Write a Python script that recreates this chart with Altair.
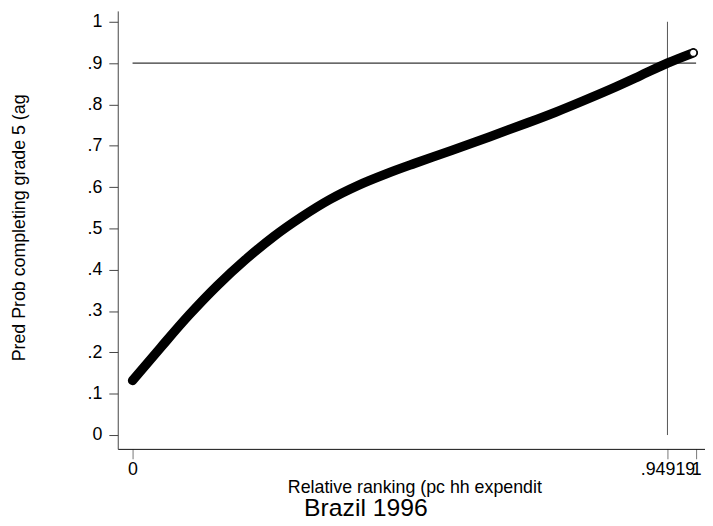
import altair as alt
import pandas as pd

# ---- data ----
rank = [0, 0.05, 0.1, 0.15, 0.2, 0.25, 0.3, 0.35, 0.4, 0.45, 0.5, 0.55,
        0.6, 0.65, 0.7, 0.75, 0.8, 0.85, 0.9, 0.949, 0.995]
prob = [0.132, 0.212, 0.29, 0.361, 0.424, 0.48, 0.528, 0.570, 0.604, 0.632,
        0.657, 0.681, 0.705, 0.730, 0.755, 0.781, 0.809, 0.838, 0.869, 0.9, 0.925]
x_ticks = [0, 0.94919, 1]
y_ticks = [0, 0.1, 0.2, 0.3, 0.4, 0.5, 0.6, 0.7, 0.8, 0.9, 1]
hline_y = [0.9]
hline_x = [0]
hline_x2 = [1]
vline_x = [0.94919]
vline_y = [0]
vline_y2 = [1]
x_title = "Relative ranking (pc hh expendit"
y_title = "Pred Prob completing grade 5 (ag"
caption = ["Brazil 1996"]

FONT = "Liberation Sans"

df = pd.DataFrame({"rank": rank, "prob": prob})
last = df.tail(1)
df_h = pd.DataFrame({"x": hline_x, "x2": hline_x2, "y": hline_y})
df_v = pd.DataFrame({"x": vline_x, "y": vline_y, "y2": vline_y2})
df_t = pd.DataFrame({"t": caption})

xs = alt.Scale(domain=[-0.0263, 1.0158], nice=False, zero=False)
ys = alt.Scale(domain=[-0.0335, 1.0263], nice=False, zero=False)

x_axis = alt.Axis(
    values=x_ticks,
    labelExpr="datum.value == 0 ? '0' : datum.value == 1 ? '1' : replace(format(datum.value, '.5f'), '0.', '.')",
    title=x_title, grid=False, tickSize=10, labelPadding=16,
    labelBaseline="alphabetic", labelFont=FONT, labelFontSize=18,
    labelColor="black", labelOverlap=False, labelFlush=False,
    titleFont=FONT, titleFontSize=18, titleFontWeight="normal",
    titleColor="black", titleY=44, titleX=300, titleBaseline="alphabetic",
    domainColor="#111", tickColor="#777", tickWidth=1, domainWidth=1,
)
y_axis = alt.Axis(
    values=y_ticks,
    labelExpr="datum.value == 0 ? '0' : datum.value == 1 ? '1' : replace(format(datum.value, '.1f'), '0.', '.')",
    title=y_title, grid=False, tickSize=9, labelPadding=7,
    labelFont=FONT, labelFontSize=18, labelColor="black",
    labelOverlap=False, labelFlush=False,
    titleFont=FONT, titleFontSize=18, titleFontWeight="normal",
    titleColor="black", titleX=-94, titleY=219, titleBaseline="alphabetic",
    titleAlign="center", titleAngle=270,
    domainColor="#444", tickColor="#444", tickWidth=1, domainWidth=1,
)


def X(f):
    return alt.X(f, type="quantitative", scale=xs, axis=x_axis)


def Y(f):
    return alt.Y(f, type="quantitative", scale=ys, axis=y_axis)


line = alt.Chart(df).mark_line(
    color="black", strokeWidth=9.5, strokeCap="round", interpolate="monotone"
).encode(x=X("rank"), y=Y("prob"))

endpt = alt.Chart(last).mark_point(
    shape="circle", filled=True, fill="white", stroke="black",
    strokeWidth=1.2, size=55, opacity=1
).encode(x=X("rank"), y=Y("prob"))

hrule = alt.Chart(df_h).mark_rule(color="black", strokeWidth=1).encode(
    x=X("x"), x2=alt.X2("x2"), y=Y("y"))

vrule = alt.Chart(df_v).mark_rule(color="#555", strokeWidth=1).encode(
    x=X("x"), y=Y("y"), y2=alt.Y2("y2"))

cap = alt.Chart(df_t).mark_text(
    font=FONT, fontSize=25, align="center", baseline="alphabetic", color="black"
).encode(x=alt.value(251), y=alt.value(511), text="t:N")

chart = alt.layer(hrule, vrule, line, endpt, cap).properties(
    width=594, height=443,
    autosize=alt.AutoSizeParams(type="none"),
    padding={"left": 111, "top": 0, "right": 0, "bottom": 70},
    background="white",
).configure_view(stroke=None)

chart.save("out.html", embed_options={"renderer": "svg", "actions": False})
